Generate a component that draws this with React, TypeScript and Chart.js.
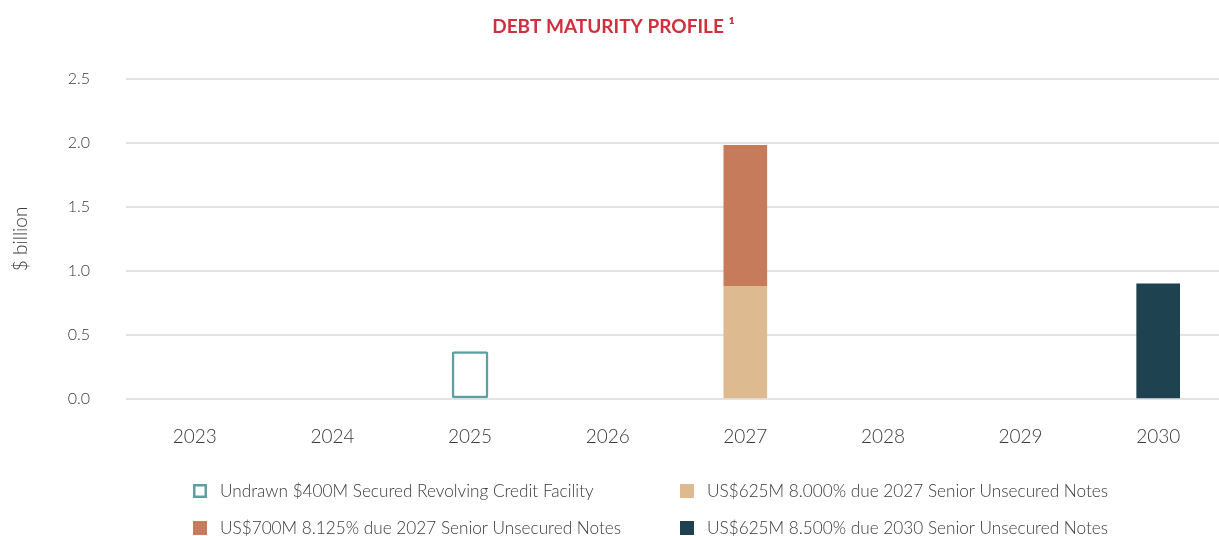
import React, { useEffect, useRef } from "react";
import { Chart, registerables } from "chart.js";

Chart.register(...registerables);

const years = ["2023", "2024", "2025", "2026", "2027", "2028", "2029", "2030"];
const undrawnFacility = [null, null, 0.37, null, null, null, null, null];
const notes2027At8000 = [null, null, null, null, 0.88, null, null, null];
const notes2027At8125 = [null, null, null, null, 1.1, null, null, null];
const notes2030At8500 = [null, null, null, null, null, null, null, 0.9];

const seriesLabels = [
  "Undrawn $400M Secured Revolving Credit Facility",
  "US$625M 8.000% due 2027 Senior Unsecured Notes",
  "US$700M 8.125% due 2027 Senior Unsecured Notes",
  "US$625M 8.500% due 2030 Senior Unsecured Notes",
];
const yTicks = [0, 0.5, 1.0, 1.5, 2.0, 2.5];

const FONT = "Lato, 'Noto Sans', sans-serif";
const TEXT = "#3a3a3a";

// legend grid: [column x, row center y]
const legendSlots = [
  [193, 491],
  [680, 491],
  [193, 528],
  [680, 528],
];

const gridLegend = {
  id: "gridLegend",
  afterDraw(chart: any) {
    const ctx = chart.ctx;
    ctx.save();
    chart.data.datasets.forEach((ds: any, i: number) => {
      const [x, y] = legendSlots[i];
      const size = 14;
      if (ds.backgroundColor === "#ffffff") {
        ctx.fillStyle = "#ffffff";
        ctx.fillRect(x, y - size / 2, size, size);
        ctx.strokeStyle = ds.borderColor;
        ctx.lineWidth = 2.5;
        ctx.strokeRect(x + 1.25, y - size / 2 + 1.25, size - 2.5, size - 2.5);
      } else {
        ctx.fillStyle = ds.backgroundColor;
        ctx.fillRect(x, y - size / 2, size, size);
      }
      ctx.fillStyle = TEXT;
      ctx.font = `300 17.2px ${FONT}`;
      ctx.textAlign = "left";
      ctx.textBaseline = "middle";
      ctx.fillText(ds.label, x + 27, y);
    });
    ctx.restore();
  },
};

export default function App() {
  const ref = useRef<HTMLCanvasElement | null>(null);

  useEffect(() => {
    if (!ref.current) return;
    const chart = new Chart(ref.current, {
      type: "bar",
      data: {
        labels: years,
        datasets: [
          {
            label: seriesLabels[0],
            data: undrawnFacility,
            backgroundColor: "#ffffff",
            borderColor: "#5e9fa2",
            borderWidth: 2.5,
            borderSkipped: false,
            borderRadius: 2,
            barThickness: 36,
          },
          {
            label: seriesLabels[1],
            data: notes2027At8000,
            backgroundColor: "#ddba8f",
            barThickness: 43,
          },
          {
            label: seriesLabels[2],
            data: notes2027At8125,
            backgroundColor: "#c67c5a",
            barThickness: 43,
          },
          {
            label: seriesLabels[3],
            data: notes2030At8500,
            backgroundColor: "#1f4250",
            barThickness: 43,
          },
        ] as any,
      },
      options: {
        animation: false,
        responsive: true,
        maintainAspectRatio: false,
        layout: { padding: { left: 0, right: 13, top: 0, bottom: 77 } },
        plugins: {
          legend: { display: false },
          tooltip: { enabled: false },
          title: {
            display: true,
            text: "DEBT MATURITY PROFILE \u00b9",
            color: "#d02f3d",
            font: { family: FONT, size: 19, weight: "bold" },
            padding: { top: 15, bottom: 41 },
          },
        },
        scales: {
          x: {
            stacked: true,
            grid: { display: false },
            border: { display: false },
            ticks: {
              color: TEXT,
              font: { family: FONT, size: 19, weight: "300" },
              padding: 18,
              maxRotation: 0,
            },
            afterFit: (s: any) => {
              s.height = 60;
            },
          },
          y: {
            stacked: true,
            min: 0,
            max: 2.5,
            afterBuildTicks: (s: any) => {
              s.ticks = yTicks.map((v) => ({ value: v }));
            },
            grid: { color: "#e3e3e3", lineWidth: 2, drawTicks: false },
            border: { display: false },
            ticks: {
              color: TEXT,
              font: { family: FONT, size: 16, weight: "300" },
              padding: 36,
              callback: (v: any) => Number(v).toFixed(1),
            },
            title: {
              display: true,
              text: "$ billion",
              color: TEXT,
              font: { family: FONT, size: 19, weight: "300" },
              padding: { top: 9, bottom: 0 },
            },
            afterFit: (s: any) => {
              s.width = 126;
            },
          },
        },
      },
      plugins: [gridLegend],
    });
    return () => chart.destroy();
  }, []);

  return (
    <div
      style={{
        position: "absolute",
        left: 0,
        top: 0,
        width: 1219,
        height: 536,
        overflow: "hidden",
        background: "#ffffff",
      }}
    >
      <div style={{ position: "relative", width: 1240, height: 536 }}>
        <canvas ref={ref} />
      </div>
    </div>
  );
}
